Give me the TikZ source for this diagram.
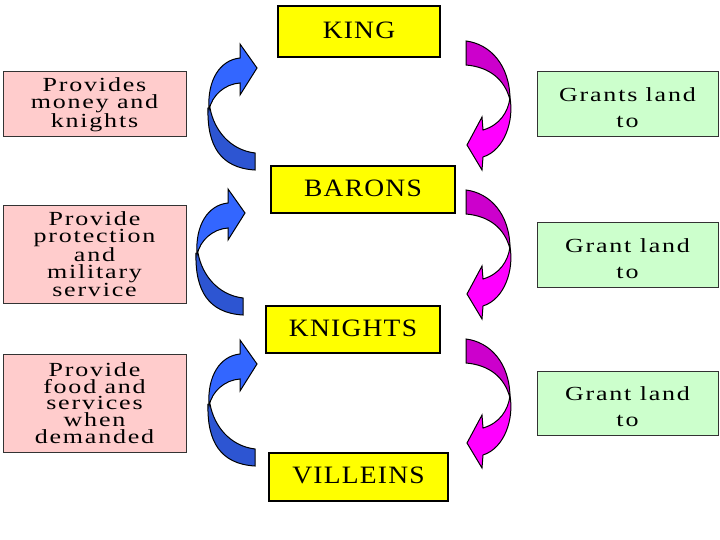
\documentclass[tikz,border=0pt]{standalone}
\usepackage{fontspec}
\setmainfont{Liberation Serif}
\newfontfamily\bigboxfont[FakeStretch=1.1,LetterSpace=5]{Liberation Serif}
\newfontfamily\smboxfont[FakeStretch=1.3,LetterSpace=9]{Liberation Serif}
\definecolor{rankyellow}{HTML}{FFFF00}
\definecolor{dutypink}{HTML}{FFCCCC}
\definecolor{grantgreen}{HTML}{CCFFCC}
\definecolor{blueup}{HTML}{3366FF}
\definecolor{bluelow}{HTML}{2D55D2}
\definecolor{magup}{HTML}{CC00CC}
\definecolor{maglow}{HTML}{FF00FF}
\tikzset{
  rankbox/.style={draw=black, line width=1.4pt, fill=rankyellow, inner sep=0pt,
    font=\bigboxfont\fontsize{25}{25}\selectfont},
  dutybox/.style={draw=black!80, line width=1pt, fill=dutypink, inner sep=0pt,
    minimum width=183pt, align=center,
    font=\smboxfont\fontsize{20}{16.8}\selectfont},
  grantbox/.style={draw=black!80, line width=1pt, fill=grantgreen, inner sep=0pt,
    minimum width=181pt, minimum height=64pt, align=center,
    font=\smboxfont\fontsize{20}{26}\selectfont},
  arrowpart/.style={draw=black, line width=1pt, line join=miter},
}
\begin{document}
\begin{tikzpicture}[x=1pt,y=-1pt]
\useasboundingbox (0,0) rectangle (720,540);
\fill[white] (0,0) rectangle (720,540);

% rank boxes
\node[rankbox, minimum width=162pt, minimum height=51pt] (king) at (359,31.5) {\rule[-3pt]{0pt}{0pt}KING};
\node[rankbox, minimum width=184pt, minimum height=47pt] (barons) at (363,189.5) {\rule[-3pt]{0pt}{0pt}BARONS};
\node[rankbox, minimum width=174pt, minimum height=47pt] (knights) at (353,329.5) {\rule[-3pt]{0pt}{0pt}KNIGHTS};
\node[rankbox, minimum width=179pt, minimum height=48pt] (villeins) at (358.5,477) {\rule[-3pt]{0pt}{0pt}VILLEINS};

% duty boxes (left)
\node[dutybox, minimum height=65pt] (duty1) at (94.5,104.5) {Provides\\money and\\knights};
\node[dutybox, minimum height=97pt] (duty2) at (94.5,254.5) {Provide\\protection\\and\\military\\service};
\node[dutybox, minimum height=98pt] (duty3) at (94.5,403) {Provide\\food and\\services\\when\\demanded};

% grant boxes (right)
\node[grantbox, minimum height=65pt] (grant1) at (627.5,104.5) {\rule{0pt}{21pt}Grants land\\to};
\node[grantbox] (grant2) at (627.5,255) {\rule{0pt}{21pt}Grant land\\to};
\node[grantbox] (grant3) at (627.5,403) {\rule{0pt}{21pt}Grant land\\to};

% blue curved arrows (upwards, left side)
\foreach \dx/\dy in {0/0, -12/145, 0/296} {
  \begin{scope}[shift={(\dx,\dy)}]
    \path[arrowpart, fill=bluelow]
      (210,108) .. controls (214,130) and (230,150) .. (255,153)
      -- (255,170) .. controls (220,168) and (207,145) .. (208,108) -- cycle;
    \path[arrowpart, fill=blueup]
      (209,110) .. controls (207,80) and (220,60) .. (240,58)
      -- (240,44) -- (257,68) -- (240,95) -- (240,83)
      .. controls (225,84) and (212,95) .. (209,110) -- cycle;
  \end{scope}
}

% magenta curved arrows (downwards, right side)
\foreach \dy in {0, 149, 298} {
  \begin{scope}[shift={(0,\dy)}]
    \path[arrowpart, fill=magup]
      (466,41) .. controls (490,44) and (510,65) .. (510,100)
      .. controls (505,80) and (490,67) .. (466,65) -- cycle;
    \path[arrowpart, fill=maglow]
      (510,98) .. controls (514,120) and (505,150) .. (483,157)
      -- (482,170) -- (467,145) -- (482,117) -- (483,130)
      .. controls (500,125) and (508,112) .. (510,98) -- cycle;
  \end{scope}
}
\end{tikzpicture}
\end{document}
